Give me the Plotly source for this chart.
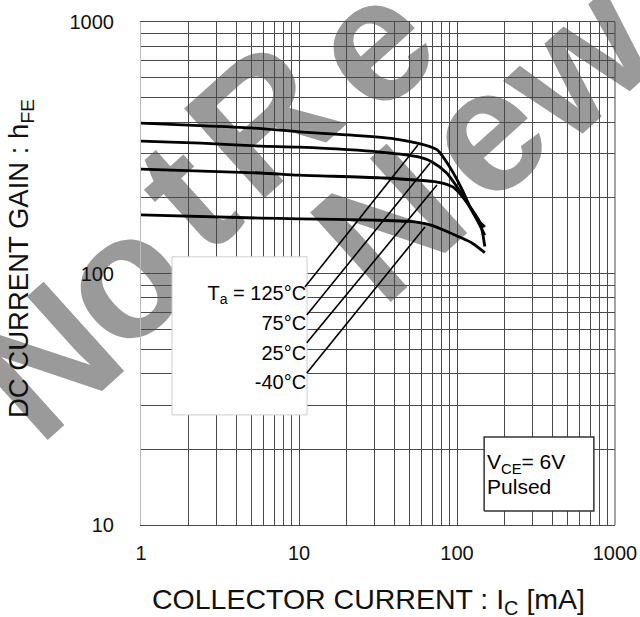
import plotly.graph_objects as go

# ---- data ----
ic_125 = [1, 2, 5, 10, 20, 40, 56, 65, 75, 90, 108, 121, 136, 150]
hfe_125 = [396, 389, 379, 366, 356, 343, 330, 322, 310, 265, 215, 184, 163, 153]

ic_75 = [1, 2.4, 5.7, 10, 33, 58, 70, 86, 100, 116, 134, 150]
hfe_75 = [336, 330, 321, 318, 304, 290, 277, 251, 221, 191, 163, 142]

ic_25 = [1, 5.7, 10, 33, 75, 94, 109, 121, 140, 150]
hfe_25 = [260, 251, 246, 240, 231, 221, 201, 184, 159, 128]

ic_m40 = [1, 5.7, 10, 30, 50, 65, 80, 100, 125, 150]
hfe_m40 = [171, 166, 165, 163, 161, 157, 150, 141, 132, 121]

temp_labels = ["T<sub>a</sub> = 125°C", "75°C", "25°C", "-40°C"]
label_y = [82.1, 62.4, 47.4, 36.4]
label_x = 11.1

# leader lines: start (near label) -> end (on curve)
lead_x = [[10.9, 56.6], [11.2, 67.5], [11.2, 74.7], [11.2, 62.7]]
lead_y = [[88.3, 324], [68.4, 275], [53, 225], [40.2, 153]]

# label boxes
tbox_x = [1.571, 11.25]
tbox_y = [27.4, 116.5]
vbox_x = [148.5, 735]
vbox_y = [11.37, 22.4]
cond_text = ["V<sub>CE</sub>= 6V", "Pulsed"]
cond_x = 155
cond_y = [17.5, 13.9]

x_ticks = [1, 10, 100, 1000]
x_ticktext = ["1", "10", "100", "1000"]
y_ticks = [10, 100, 1000]
y_ticktext = ["10", "100", "1000"]
minor_x = [m * d for d in (1, 10, 100) for m in range(2, 10)]
minor_y = [m * d for d in (10, 100) for m in range(2, 10)]

FONT = "Liberation Sans, Arial, sans-serif"
GRID = "#4a4a4a"

fig = go.Figure()

# temperature label box (white, covers the grid)
fig.add_trace(go.Scatter(
    x=[tbox_x[0], tbox_x[1], tbox_x[1], tbox_x[0], tbox_x[0]],
    y=[tbox_y[0], tbox_y[0], tbox_y[1], tbox_y[1], tbox_y[0]],
    mode="lines", fill="toself", fillcolor="white",
    line=dict(color="#cccccc", width=1), hoverinfo="skip", showlegend=False))

# condition box
fig.add_trace(go.Scatter(
    x=[vbox_x[0], vbox_x[1], vbox_x[1], vbox_x[0], vbox_x[0]],
    y=[vbox_y[0], vbox_y[0], vbox_y[1], vbox_y[1], vbox_y[0]],
    mode="lines", fill="toself", fillcolor="white",
    line=dict(color="#333333", width=1.5), hoverinfo="skip", showlegend=False))

# leader lines
for lx, ly in zip(lead_x, lead_y):
    fig.add_trace(go.Scatter(x=lx, y=ly, mode="lines",
                             line=dict(color="black", width=1.6),
                             hoverinfo="skip", showlegend=False))

# curves
for xs, ys, name in [(ic_125, hfe_125, "125°C"), (ic_75, hfe_75, "75°C"),
                     (ic_25, hfe_25, "25°C"), (ic_m40, hfe_m40, "-40°C")]:
    fig.add_trace(go.Scatter(x=xs, y=ys, mode="lines", name=name,
                             line=dict(color="black", width=2.8, shape="spline", smoothing=0.7),
                             showlegend=False))

# temperature labels
fig.add_trace(go.Scatter(x=[label_x] * 4, y=label_y, mode="text", text=temp_labels,
                         textposition="middle left",
                         textfont=dict(family=FONT, size=20, color="black"),
                         hoverinfo="skip", showlegend=False))

# condition labels
fig.add_trace(go.Scatter(x=[cond_x] * 2, y=cond_y, mode="text", text=cond_text,
                         textposition="middle right",
                         textfont=dict(family=FONT, size=21, color="black"),
                         hoverinfo="skip", showlegend=False))

# watermark letters (below grid)
wm_letters = ["N", "o", "t", "R", "e", "N", "e", "w"]
wm_px = [(45, 360), (120, 278), (185, 195), (262, 118), (370, 42),
         (388, 222), (483, 132), (575, 58)]
L, T, W, H = 141, 22, 474, 503
for ch, (px, py) in zip(wm_letters, wm_px):
    px -= 11
    py -= 12
    xp = (px - L) / W
    yp = (T + H - py) / H
    fig.add_shape(type="rect", xref="paper", yref="paper",
                  x0=xp - 0.002, x1=xp + 0.002, y0=yp - 0.002, y1=yp + 0.002,
                  line=dict(width=0), fillcolor="rgba(0,0,0,0)", layer="below",
                  label=dict(text="<b>" + ch + "</b>", textangle=-42,
                             textposition="middle center",
                             font=dict(family=FONT, size=175, color="#9a9a9a")))

# right frame edge
fig.add_shape(type="line", xref="paper", yref="paper", x0=1, x1=1, y0=0, y1=1,
              line=dict(color=GRID, width=1))

fig.update_xaxes(type="log", range=[0, 3], tickvals=x_ticks, ticktext=x_ticktext,
                 showgrid=True, gridcolor=GRID, gridwidth=1,
                 minor=dict(tickvals=minor_x, showgrid=True, gridcolor=GRID, gridwidth=1),
                 showline=True, linecolor=GRID, linewidth=1, mirror=True,
                 zeroline=False, ticks="", automargin=False,
                 tickfont=dict(family=FONT, size=20, color="#111"),
                 ticklabelstandoff=10)
fig.update_yaxes(type="log", range=[1, 3], tickvals=y_ticks, ticktext=y_ticktext,
                 showgrid=True, gridcolor=GRID, gridwidth=1,
                 minor=dict(tickvals=minor_y, showgrid=True, gridcolor=GRID, gridwidth=1),
                 showline=True, linecolor="#bbbbbb", linewidth=1,
                 zeroline=False, ticks="", automargin=False,
                 tickfont=dict(family=FONT, size=20, color="#111"),
                 ticklabelstandoff=22)

fig.add_annotation(xref="paper", yref="paper", x=(368 - L) / W, y=(T + H - 601) / H,
                   text="COLLECTOR CURRENT : I<sub>C</sub> [mA]", showarrow=False,
                   font=dict(family=FONT, size=28.5, color="#111"),
                   xanchor="center", yanchor="middle")
fig.add_annotation(xref="paper", yref="paper", x=(20 - L) / W, y=(T + H - 259) / H,
                   text="DC CURRENT GAIN : h<sub>FE</sub>", showarrow=False, textangle=-90,
                   font=dict(family=FONT, size=27.5, color="#111"),
                   xanchor="center", yanchor="middle")

fig.update_layout(width=640, height=617, autosize=False,
                  margin=dict(l=L, r=640 - L - W, t=T, b=617 - T - H, autoexpand=False),
                  paper_bgcolor="white", plot_bgcolor="rgba(0,0,0,0)",
                  showlegend=False)

fig.write_html("out.html",
               config={"responsive": False, "displayModeBar": False},
               post_script="document.body.style.margin='0px';document.body.style.overflow='hidden';")
